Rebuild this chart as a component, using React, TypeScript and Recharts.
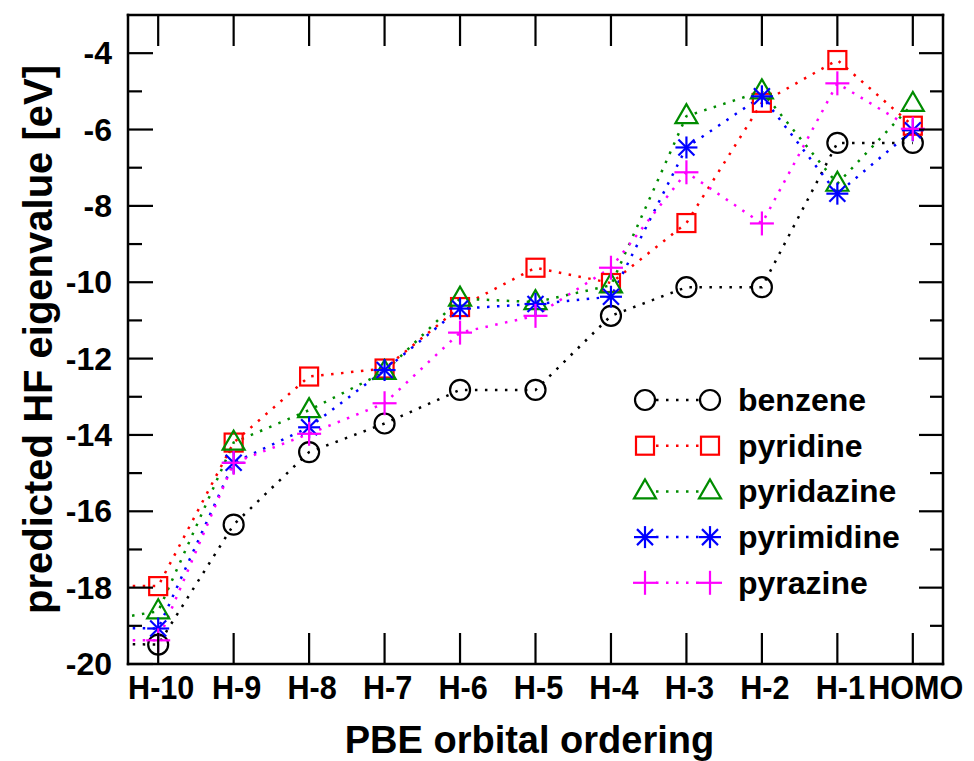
import React from 'react';
import { LineChart, Line, XAxis, YAxis, Legend } from 'recharts';

// H-11 only shows as the clipped stub at the left edge
const ORBITALS = ['H-11', 'H-10', 'H-9', 'H-8', 'H-7', 'H-6', 'H-5', 'H-4', 'H-3', 'H-2', 'H-1', 'HOMO'];

const benzene = [-19.47, -19.49, -16.35, -14.45, -13.7, -12.82, -12.82, -10.88, -10.13, -10.13, -6.35, -6.35];
const pyridine = [-17.95, -17.96, -14.2, -12.47, -12.26, -10.65, -9.62, -10.02, -8.45, -5.3, -4.18, -5.9];
const pyridazine = [-18.95, -18.62, -14.2, -13.35, -12.35, -10.43, -10.52, -10.08, -5.65, -5.0, -7.42, -5.33];
const pyrimidine = [-19.05, -19.07, -14.73, -13.8, -12.3, -10.69, -10.57, -10.38, -6.47, -5.13, -7.68, -6.02];
const pyrazine = [-19.38, -19.38, -14.73, -13.97, -13.17, -11.32, -10.88, -9.62, -7.12, -8.46, -4.79, -5.98];

const Y_TICKS = [-20, -19, -18, -17, -16, -15, -14, -13, -12, -11, -10, -9, -8, -7, -6, -5, -4];
const X_TICKS = [0, 1, 2, 3, 4, 5, 6, 7, 8, 9, 10];

type Kind = 'circle' | 'square' | 'triangle' | 'star' | 'plus';

const SERIES: { key: string; values: number[]; color: string; kind: Kind }[] = [
  { key: 'benzene', values: benzene, color: '#000000', kind: 'circle' },
  { key: 'pyridine', values: pyridine, color: '#ff0000', kind: 'square' },
  { key: 'pyridazine', values: pyridazine, color: '#008c00', kind: 'triangle' },
  { key: 'pyrimidine', values: pyrimidine, color: '#0000ff', kind: 'star' },
  { key: 'pyrazine', values: pyrazine, color: '#ff00ff', kind: 'plus' },
];

const data = ORBITALS.map((name, i) => {
  const row: Record<string, string | number> = { name, x: i - 1 };
  for (const s of SERIES) row[s.key] = s.values[i];
  return row;
});

const FONT = "'Liberation Sans', Arial, Helvetica, sans-serif";
const SW = 2.2;

function marker(kind: Kind, cx: number, cy: number, color: string, key?: string | number) {
  switch (kind) {
    case 'circle':
      return <circle key={key} cx={cx} cy={cy} r={10} fill="none" stroke={color} strokeWidth={SW} />;
    case 'square':
      return <rect key={key} x={cx - 9} y={cy - 9} width={18} height={18} fill="none" stroke={color} strokeWidth={SW} />;
    case 'triangle':
      return (
        <polygon
          key={key}
          points={`${cx},${cy - 12} ${cx - 11},${cy + 7} ${cx + 11},${cy + 7}`}
          fill="none"
          stroke={color}
          strokeWidth={SW}
        />
      );
    case 'star':
      return (
        <g key={key} stroke={color} strokeWidth={SW}>
          <line x1={cx} y1={cy - 11} x2={cx} y2={cy + 11} />
          <line x1={cx - 11} y1={cy} x2={cx + 11} y2={cy} />
          <line x1={cx - 8} y1={cy - 8} x2={cx + 8} y2={cy + 8} />
          <line x1={cx - 8} y1={cy + 8} x2={cx + 8} y2={cy - 8} />
        </g>
      );
    default:
      return (
        <g key={key} stroke={color} strokeWidth={SW}>
          <line x1={cx} y1={cy - 12} x2={cx} y2={cy + 12} />
          <line x1={cx - 12} y1={cy} x2={cx + 12} y2={cy} />
        </g>
      );
  }
}

const makeDot = (kind: Kind, color: string) => (props: any) => {
  const { cx, cy, index } = props;
  if (index === 0 || cx == null || cy == null) return <g key={`d-${index}`} />;
  return marker(kind, cx, cy, color, `d-${index}`);
};

const LeftTick = (props: any) => {
  const { x, y, payload } = props;
  const major = payload.value % 2 === 0;
  return (
    <g>
      <line x1={x} y1={y} x2={x + (major ? 25 : 14)} y2={y} stroke="#000" strokeWidth={2.2} />
      {major && (
        <text x={x - 16} y={y + 11} textAnchor="end" fontFamily={FONT} fontWeight="bold" fontSize={32} fill="#000">
          {payload.value}
        </text>
      )}
    </g>
  );
};

const RightTick = (props: any) => {
  const { x, y, payload } = props;
  const major = payload.value % 2 === 0;
  return <line x1={x} y1={y} x2={x - (major ? 24 : 13)} y2={y} stroke="#000" strokeWidth={2.2} />;
};

const BottomTick = (props: any) => {
  const { x, y, payload } = props;
  return (
    <g>
      <line x1={x} y1={y} x2={x} y2={y - 31} stroke="#000" strokeWidth={2.2} />
      <text
        transform={`translate(${x + 3}, ${y + 35}) scale(0.9, 1)`}
        textAnchor="middle"
        fontFamily={FONT}
        fontWeight="bold"
        fontSize={34}
        fill="#000"
      >
        {ORBITALS[payload.value + 1]}
      </text>
    </g>
  );
};

const TopTick = (props: any) => {
  const { x, y } = props;
  return <line x1={x} y1={y} x2={x} y2={y + 31} stroke="#000" strokeWidth={2.2} />;
};

const YTitle = (props: any) => {
  const { x, y, height } = props.viewBox;
  const cx = x + 38;
  const cy = y + height / 2;
  return (
    <text
      x={cx}
      y={cy}
      transform={`rotate(-90, ${cx}, ${cy})`}
      textAnchor="middle"
      dominantBaseline="central"
      fontFamily={FONT}
      fontWeight="bold"
      fontSize={40}
      fill="#000"
    >
      predicted HF eigenvalue [eV]
    </text>
  );
};

const XTitle = (props: any) => {
  const { x, y, width } = props.viewBox;
  return (
    <text x={x + width / 2 - 6} y={y + 89} textAnchor="middle" fontFamily={FONT} fontWeight="bold" fontSize={38} fill="#000">
      PBE orbital ordering
    </text>
  );
};

const LegendBox = () => (
  <svg width={320} height={240}>
    {SERIES.map((s, i) => {
      const cy = 25 + i * 45.7;
      return (
        <g key={s.key}>
          <line x1={36} y1={cy} x2={80} y2={cy} stroke={s.color} strokeWidth={2.5} strokeDasharray="2.5 7.5" />
          {marker(s.kind, 25, cy, s.color)}
          {marker(s.kind, 90, cy, s.color)}
          <text x={118} y={cy + 11} fontFamily={FONT} fontWeight="bold" fontSize={32} fill="#000">
            {s.key}
          </text>
        </g>
      );
    })}
  </svg>
);

const frame = { stroke: '#000', strokeWidth: 2.5, strokeLinecap: 'square' as const };

export default function App() {
  return (
    <div style={{ position: 'absolute', left: 0, top: 0, background: '#fff' }}>
      <LineChart width={974} height={761} data={data} margin={{ top: 0, right: 0, bottom: 0, left: 0 }}>
        <XAxis
          xAxisId="bottom"
          type="number"
          dataKey="x"
          domain={[-0.4, 10.4]}
          allowDataOverflow
          ticks={X_TICKS}
          interval={0}
          tickSize={0}
          tickMargin={0}
          tickLine={false}
          height={97}
          axisLine={frame}
          tick={BottomTick}
          label={{ content: XTitle }}
        />
        <XAxis
          xAxisId="top"
          orientation="top"
          type="number"
          dataKey="x"
          domain={[-0.4, 10.4]}
          allowDataOverflow
          ticks={X_TICKS}
          interval={0}
          tickSize={0}
          tickMargin={0}
          tickLine={false}
          height={15}
          axisLine={frame}
          tick={TopTick}
        />
        <YAxis
          yAxisId="left"
          type="number"
          domain={[-20, -3]}
          allowDataOverflow
          ticks={Y_TICKS}
          interval={0}
          tickSize={0}
          tickMargin={0}
          tickLine={false}
          width={128}
          axisLine={frame}
          tick={LeftTick}
          label={{ content: YTitle }}
        />
        <YAxis
          yAxisId="right"
          orientation="right"
          type="number"
          domain={[-20, -3]}
          allowDataOverflow
          ticks={Y_TICKS}
          interval={0}
          tickSize={0}
          tickMargin={0}
          tickLine={false}
          width={31}
          axisLine={frame}
          tick={RightTick}
        />
        <Legend
          layout="vertical"
          align="center"
          verticalAlign="middle"
          content={LegendBox}
          wrapperStyle={{ left: 620, top: 375, width: 320, height: 240 }}
        />
        {SERIES.map((s) => (
          <Line
            key={s.key}
            xAxisId="bottom"
            yAxisId="left"
            dataKey={s.key}
            type="linear"
            stroke={s.color}
            strokeWidth={2.5}
            strokeDasharray="2.5 7.5"
            dot={makeDot(s.kind, s.color)}
            activeDot={false}
            isAnimationActive={false}
          />
        ))}
      </LineChart>
    </div>
  );
}
